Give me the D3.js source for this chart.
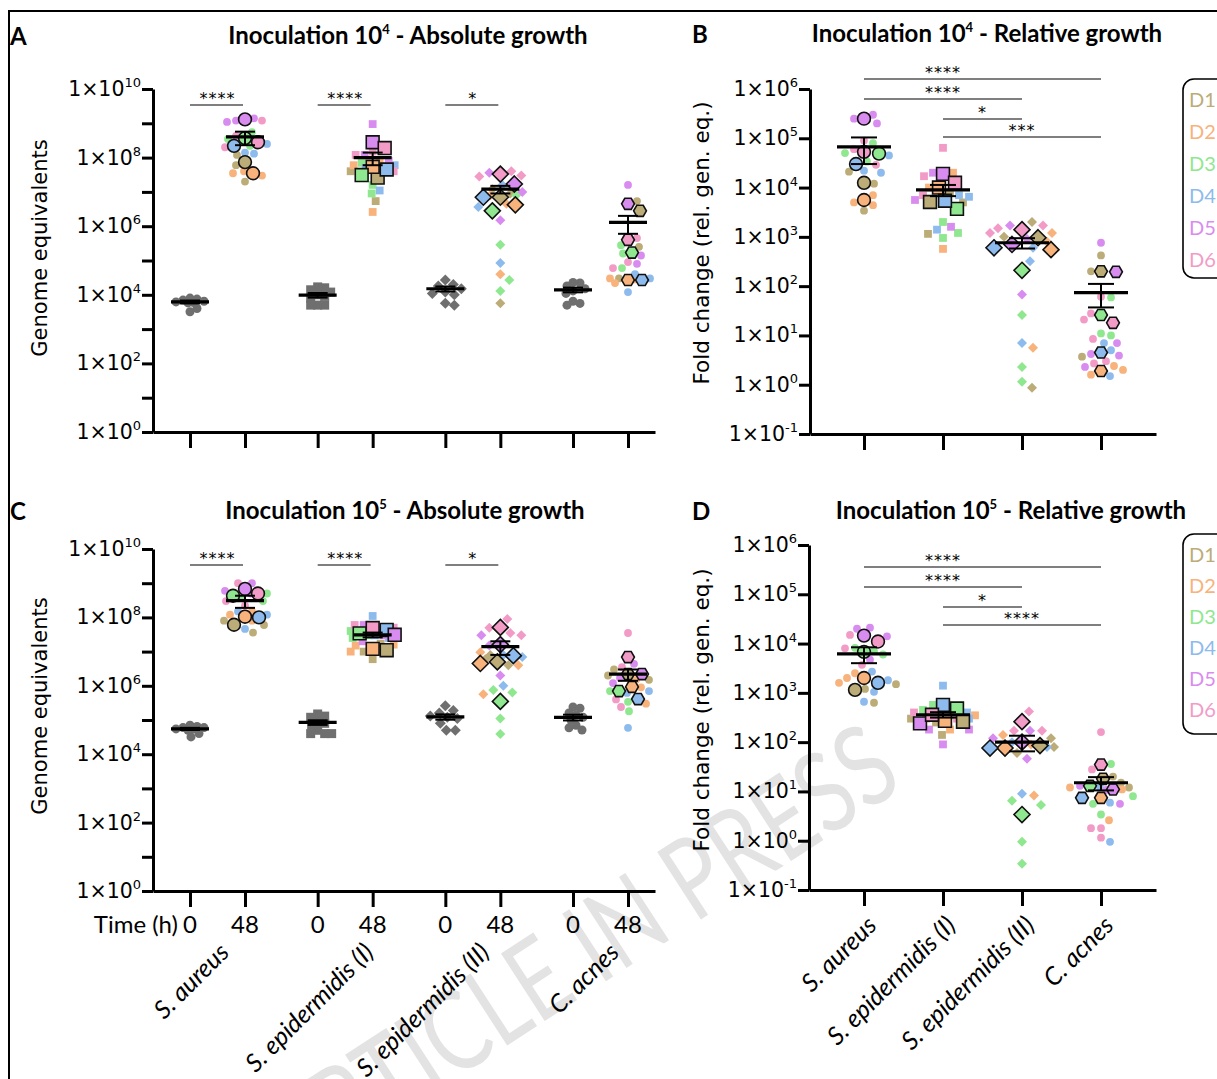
<!DOCTYPE html>
<html>
<head>
<meta charset="utf-8">
<script src="https://cdn.jsdelivr.net/npm/d3@7"></script>
<style>
  body { margin: 0; background: #fff; }
  svg { display: block; }
</style>
</head>
<body>
<div id="fig"></div>
<script>
// ---- data ----
const species = ["S. aureus", "S. epidermidis (I)", "S. epidermidis (II)", "C. acnes"];
const donors = ["D1", "D2", "D3", "D4", "D5", "D6"];
const donorColors = ["#bcac78", "#f8b27c", "#8fe88f", "#8dbbee", "#d98cf0", "#f39bc7"];
const timeLabels = ["0", "48"];
const absMajorTicks = [1, 1e2, 1e4, 1e6, 1e8, 1e10];
const absAllTicks = [1, 1e1, 1e2, 1e3, 1e4, 1e5, 1e6, 1e7, 1e8, 1e9, 1e10];
const relTicks = [1e-1, 1, 1e1, 1e2, 1e3, 1e4, 1e5, 1e6];

// A: inoculation 10^4, genome equivalents
const a_t0 = [
  [8e3, 7.5e3, 6.5e3, 6e3, 6.2e3, 5.8e3, 7e3, 3.2e3, 4e3],
  [1.6e4, 1.7e4, 1.2e4, 1.4e4, 1e4, 8e3, 9e3, 5e3, 5e3, 5e3],
  [2.7e4, 2e4, 1.8e4, 1.5e4, 1.2e4, 1.1e4, 1e4, 5.7e3, 5e3],
  [2.3e4, 2.2e4, 1.8e4, 1.5e4, 1.3e4, 1.1e4, 6.5e3, 5.6e3, 5e3]
];
const a_reps = [ // [species][donor] replicate values at 48 h
  [[1.2e8, 2e7, 6e7], [4e7, 3e7, 3.5e7], [5.5e8, 3.5e8, 2.2e8], [1.3e8, 1.4e8, 2.5e8], [1.1e9, 1.2e9, 1.4e9], [1.2e9, 4.3e8, 2e8]],
  [[5.5e7, 5.4e6, 4e7], [2.6e6, 8e7, 6e7], [1.6e7, 9e6, 7e7], [1.1e7, 6e7, 5e7], [9.5e8, 8e7, 1.2e8], [1.5e8, 1.2e8, 4e7]],
  [[5.7e3, 1.2e7, 9e6], [4e4, 8e6, 4.5e6], [8e6, 2.9e5, 2.7e4, 1.3e4], [3.6e6, 8.5e4, 1.6e7], [3.6e7, 1e7, 1.5e6], [2.8e7, 4e7, 3e7]],
  [[5.4e6, 2.5e5, 3e4], [3e4, 2.2e4, 2.8e4], [2.8e5, 6e4, 1.6e5], [1.2e4, 4e4, 3e4], [1.6e7, 1.4e5, 8e4], [4.5e5, 9e4, 6e4]]
];
const a_donorMeans = [
  [7.4e7, 3.5e7, 3.7e8, 2.2e8, 1.3e9, 2.8e8],
  [2.6e7, 5.4e7, 3.1e7, 4.5e7, 2.8e8, 1.9e8],
  [7e6, 4.2e6, 2.8e6, 7e6, 1.7e7, 3.3e7],
  [2.8e6, 2.7e4, 1.7e5, 2.7e4, 4.5e6, 4e5]
];
const a_t0Stats = [[6.2e3, 6e2], [9.8e3, 1.5e3], [1.5e4, 2.5e3], [1.4e4, 2.2e3]]; // mean, sem
const a_t48Stats = [[4e8, 1.7e8], [1e8, 4e7], [1.2e7, 3e6], [1.3e6, 7e5]];
const a_stars = ["****", "****", "*"];

// C: inoculation 10^5, genome equivalents
const c_t0 = [
  [7e4, 6.5e4, 6e4, 6e4, 5.5e4, 5.5e4, 5e4, 3.2e4, 4e4],
  [1.5e5, 1.3e5, 1.2e5, 9e4, 8e4, 7e4, 5e4, 4e4, 4e4, 4e4],
  [2.6e5, 1.9e5, 1.6e5, 1.3e5, 1.2e5, 1.1e5, 8e4, 5e4, 5e4],
  [2.4e5, 2.2e5, 1.6e5, 1.4e5, 1.2e5, 1e5, 7e4, 5.9e4, 5.1e4]
];
const c_reps = [
  [[3.6e7, 6e7, 8e7], [1.2e8, 1.5e8, 8e7], [4e8, 5e8, 3e8], [4.6e7, 1.5e8, 1.2e8], [1e9, 5e8, 6e8], [1e9, 3e8, 2.2e8]],
  [[1.7e7, 6e6, 1e7], [1.5e7, 1e7, 1.6e7], [3e7, 4e7, 2.5e7], [1.1e8, 3e7, 2.5e7], [6e7, 2e7, 3e7], [5e7, 6e7, 4e7]],
  [[6e6, 4e6, 8e6], [9.5e6, 5.7e5, 4e6], [6.4e5, 7.5e5, 1.1e5, 3.9e4], [7e6, 1e6, 8e6], [2e6, 3e7, 1.5e7], [9e7, 5e7, 3.5e7, 3e7]],
  [[2e6, 3e6, 1.5e6], [1.5e6, 3e5, 9e5], [3.4e5, 1.8e5, 7e5], [6.2e5, 7e5, 5.9e4], [4.4e6, 1.7e6, 1.2e6], [3.5e7, 3.5e6, 2.4e5, 4e5]]
];
const c_donorMeans = [
  [6.1e7, 1.05e8, 4.3e8, 1e8, 6.8e8, 5e8],
  [1.1e7, 1.2e7, 3.4e7, 4.3e7, 3.1e7, 4.9e7],
  [5e6, 4.5e6, 3.5e5, 7.6e6, 1.6e7, 5.1e7],
  [2.2e6, 9.3e5, 7e5, 4.1e5, 2.2e6, 6.9e6]
];
const c_t0Stats = [[5.5e4, 4e3], [8.5e4, 1.3e4], [1.24e5, 2.2e4], [1.2e5, 2.3e4]];
const c_t48Stats = [[3.1e8, 1.2e8], [3.1e7, 5e6], [1.4e7, 6e6], [2.2e6, 8e5]];
const c_stars = ["****", "****", "*"];

// B: inoculation 10^4, fold change
const b_reps = [
  [[2.1e4, 3.4e3, 1.2e4], [4.4e3, 7e3, 5e3], [3.4e4, 5e4, 8e4], [2e4, 2.2e4, 4.5e4], [2.5e5, 2e5, 3e5], [9e4, 2.9e4, 6e4]],
  [[1.15e3, 5e3, 8e3], [5.7e2, 2e4, 1e4], [2e3, 1.2e3, 9.5e2], [1.4e3, 7e3, 6.5e3], [5.6e3, 1.6e3, 2e4], [6.4e4, 1.7e4, 7e3]],
  [[2e3, 0.87, 1e3], [5.6, 1.2e3, 8e2], [2.3, 1.15, 26], [7, 3.2e2, 6e2], [68, 1.7e3, 9e2], [1.5e3, 1.7e3, 1.2e3]],
  [[4.2e2, 3.7, 2e2], [2.4, 1.6, 2], [59, 11, 10], [7, 5, 1.5], [7.6e2, 7, 4.2, 3.9, 2.3], [61, 28, 21, 8.5, 2.7, 3]]
];
const b_donorMeans = [
  [1.25e4, 5.6e3, 4.9e4, 3e4, 2.5e5, 5.3e4],
  [5.1e3, 1e4, 3.7e3, 5.4e3, 1.9e4, 1.25e4],
  [9.6e2, 5.5e2, 2.1e2, 6e2, 7e2, 1.4e3],
  [2e2, 1.9, 26, 4.5, 1.95e2, 18]
];
const b_stats = [[6.7e4, 3.7e4], [9e3, 2.3e3], [7.6e2, 1.8e2], [74, 37]];
const b_stars = ["****", "****", "*", "***"];

// D: inoculation 10^5, fold change
const d_reps = [
  [[6.3e2, 1.5e3, 1.2e3], [2e3, 2.5e3, 1.6e3], [8.2e3, 6e3, 7e3], [2.7e3, 1.8e3, 1.05e3, 6.6e2], [2.1e4, 2e4, 1.4e4, 4.7e3], [3.7e3, 1.5e4, 8e3]],
  [[1.4e2, 2.5e2, 3e2], [1.8e2, 3e2, 3.5e2], [5.7e2, 4.5e2, 3.5e2], [1.4e3, 3e2, 4e2], [1.8e2, 1.8e2, 90], [3.5e2, 4e2, 3e2]],
  [[1.2e2, 80, 60], [8.3, 1.4e2, 90], [6.5, 5.3, 0.95, 0.34], [9, 80, 1e2], [46, 1.7e2, 1.2e2], [4.2e2, 1.7e2, 1.7e2]],
  [[15, 20, 12], [2.6, 11, 12], [36, 5.6, 3.4, 8], [5.9, 0.95, 12], [10.7, 5.6, 13], [1.6e2, 28, 1.8, 1.8, 1.15]]
];
const d_donorMeans = [
  [1.15e3, 2e3, 6.8e3, 1.6e3, 1.45e4, 1.1e4],
  [2.6e2, 2.7e2, 4.8e2, 5.7e2, 2.4e2, 3.6e2],
  [85, 76, 3.4, 76, 1e2, 2.6e2],
  [18, 7.4, 13, 7.4, 11, 35]
];
const d_stats = [[6.2e3, 2.2e3], [3.6e2, 45], [1e2, 35], [15, 4.5]];
const d_stars = ["****", "****", "*", "****"];
const relComparisons = [[0, 3], [0, 2], [1, 2], [1, 3]];

// ---- drawing ----
const W = 1217, H = 1079;
const svg = d3.select("#fig").append("svg").attr("width", W).attr("height", H)
  .style("font-family", "'DejaVu Sans', sans-serif");
svg.append("rect").attr("width", W).attr("height", H).attr("fill", "#fff");

// watermark
svg.append("text")
  .attr("transform", "translate(600,985) rotate(-33) scale(0.78,1)")
  .attr("text-anchor", "middle")
  .attr("font-family", "Lato").attr("font-size", 112)
  .attr("fill", "#e3e3e3")
  .text("ARTICLE IN PRESS");

// figure frame
svg.append("path").attr("d", "M9,1079V11H1217").attr("fill", "none").attr("stroke", "#000").attr("stroke-width", 2);

const smallShape = ["circle", "square", "diamond", "circle"];
const bigShape = ["circle", "square", "diamond", "hexagon"];
const grey = "#6f6f6f";

function shapePath(kind, s) {
  if (kind === "circle") return d3.symbol(d3.symbolCircle, Math.PI * s * s)();
  if (kind === "square") return d3.symbol(d3.symbolSquare, 4 * s * s)();
  if (kind === "diamond") return `M0,${-s}L${s},0L0,${s}L${-s},0Z`;
  const pts = d3.range(6).map(i => [s * Math.cos(i * Math.PI / 3), s * Math.sin(i * Math.PI / 3)]);
  return "M" + pts.map(p => p.join(",")).join("L") + "Z";
}

// beeswarm kept inside +-half: big markers first, then small ones around them;
// when no free slot is left the least crowded one is taken
function swarm(items, cx, gap, half) {
  const placed = [];
  const order = items.slice().sort((a, b) => (b.big ? 1 : 0) - (a.big ? 1 : 0) || a.py - b.py);
  order.forEach(it => {
    let best = null, bestScore = -Infinity;
    for (let k = 0; k <= 2 * half; k++) {
      const off = k === 0 ? 0 : (k % 2 ? (k + 1) / 2 : -k / 2);
      const x = cx + off;
      let score = Infinity;
      placed.forEach(p => {
        const need = (p.r + it.r) * (p.big !== it.big ? 0.8 : 1) + gap;
        const d = Math.sqrt((p.px - x) ** 2 + (p.py - it.py) ** 2);
        score = Math.min(score, d - need);
      });
      if (score >= 0) { best = x; break; }
      if (score > bestScore) { bestScore = score; best = x; }
    }
    it.px = best; placed.push(it);
  });
  return items;
}

function styleAxis(sel) {
  sel.select(".domain").attr("stroke", "#000").attr("stroke-width", 3);
  sel.selectAll(".tick line").attr("stroke", "#000").attr("stroke-width", 3);
}

function expLabel(sel, n, big, small, lift) {
  sel.append("tspan").attr("font-size", big).text("1×10");
  sel.append("tspan").attr("font-size", small).attr("dy", -lift).text(n);
}

function drawGroup(g, y, grp) {
  const pts = grp.points.map(p => Object.assign({ py: y(p.v), r: p.size }, p));
  swarm(pts, grp.x, grp.gap, grp.half);
  pts.filter(p => !p.big).forEach(p => {
    g.append("path").attr("d", shapePath(p.shape, p.size))
      .attr("transform", `translate(${p.px},${p.py})`)
      .attr("fill", p.color);
  });
  pts.filter(p => p.big).forEach(p => {
    g.append("path").attr("d", shapePath(p.shape, p.size))
      .attr("transform", `translate(${p.px},${p.py})`)
      .attr("fill", p.color).attr("stroke", "#111").attr("stroke-width", 1.6);
  });
  const [m, s] = grp.stats;
  const lo = y(m - s), hi = y(m + s), ym = y(m);
  g.append("line").attr("x1", grp.x).attr("x2", grp.x).attr("y1", lo).attr("y2", hi)
    .attr("stroke", "#000").attr("stroke-width", 2);
  [lo, hi].forEach(v => g.append("line").attr("x1", grp.x - grp.capW).attr("x2", grp.x + grp.capW)
    .attr("y1", v).attr("y2", v).attr("stroke", "#000").attr("stroke-width", 2));
  g.append("line").attr("x1", grp.x - grp.meanW).attr("x2", grp.x + grp.meanW)
    .attr("y1", ym).attr("y2", ym).attr("stroke", "#000").attr("stroke-width", 3.2);
}

function drawTitle(x, yy, letter, lx, expo, rest) {
  svg.append("text").attr("x", lx).attr("y", yy + 1).attr("font-family", "Lato").attr("font-weight", 700)
    .attr("font-size", 24).text(letter);
  const t = svg.append("text").attr("x", x).attr("y", yy).attr("text-anchor", "middle")
    .attr("font-family", "Lato").attr("font-weight", 700).attr("font-size", 24);
  t.append("tspan").text("Inoculation 10");
  t.append("tspan").attr("font-size", 13).attr("dy", -10).text(expo);
  t.append("tspan").attr("dy", 10).text(" - " + rest);
}

function drawYAxis(g, f, y, all, labelled) {
  g.append("g").attr("transform", `translate(${f.x0},0)`)
    .call(d3.axisLeft(y).tickValues(all).tickFormat("").tickSize(11).tickSizeOuter(0))
    .call(styleAxis);
  labelled.forEach(v => {
    const t = g.append("text").attr("x", f.x0 - 12).attr("y", y(v) + 7).attr("text-anchor", "end");
    expLabel(t, Math.round(Math.log10(v)), 20.5, 13, 9);
  });
}

function drawXAxis(g, f, tickXs) {
  const xl = d3.scaleLinear().domain([f.x0, f.x1]).range([f.x0, f.x1]);
  g.append("g").attr("transform", `translate(0,${f.yBot})`)
    .call(d3.axisBottom(xl).tickValues(tickXs).tickFormat("").tickSize(16).tickSizeOuter(0))
    .call(styleAxis);
}

function yTitle(x, yc, text, size) {
  svg.append("text").attr("transform", `translate(${x},${yc}) rotate(-90)`)
    .attr("text-anchor", "middle").attr("font-size", size).text(text);
}

function donorPoints(i, reps, dMeans) {
  const pts = [];
  reps[i].forEach((arr, d) => arr.forEach(v => pts.push({ v, color: donorColors[d], shape: smallShape[i], size: smallShape[i] === "diamond" ? 5 : 3.9 })));
  dMeans[i].forEach((v, d) => pts.push({ v, big: true, color: donorColors[d], shape: bigShape[i], size: bigShape[i] === "diamond" ? 8 : 6.4 }));
  return pts;
}

function absolutePanel(f, t0, reps, dMeans, t0Stats, t48Stats, stars) {
  const g = svg.append("g");
  const y = d3.scaleLog().domain([1, 1e10]).range([f.yBot, f.yTop]);
  const xs = d3.scalePoint().domain(species).range(f.cx);
  const tx = (i, t) => xs(species[i]) + (t ? 27.5 : -27.5);
  drawYAxis(g, f, y, absAllTicks, absMajorTicks);
  drawXAxis(g, f, d3.merge(species.map((s, i) => [tx(i, 0), tx(i, 1)])));
  species.forEach((sp, i) => {
    drawGroup(g, y, {
      x: tx(i, 0), gap: -2, half: 18, capW: 10, meanW: 19, stats: t0Stats[i],
      points: t0[i].map(v => ({ v, color: grey, shape: smallShape[i], size: smallShape[i] === "diamond" ? 5.5 : 4.5 }))
    });
    drawGroup(g, y, { x: tx(i, 1), gap: 0.5, half: 22, capW: 10, meanW: 19, stats: t48Stats[i], points: donorPoints(i, reps, dMeans) });
  });
  // significance between 0 h and 48 h
  stars.forEach((s, i) => {
    const ly = f.yTop + 16;
    g.append("line").attr("x1", tx(i, 0)).attr("x2", tx(i, 1) - 2).attr("y1", ly).attr("y2", ly)
      .attr("stroke", "#555").attr("stroke-width", 1.5);
    g.append("text").attr("x", (tx(i, 0) + tx(i, 1)) / 2).attr("y", ly - 1).attr("text-anchor", "middle")
      .attr("font-size", 16).attr("letter-spacing", 1).text(s);
  });
  return { g, tx };
}

function relativePanel(f, reps, dMeans, stats, stars, levels) {
  const g = svg.append("g");
  const y = d3.scaleLog().domain([0.1, 1e6]).range([f.yBot, f.yTop]);
  const xs = d3.scalePoint().domain(species).range(f.cx);
  const xi = d3.scaleLinear().domain([0, species.length - 1]).range(f.cx);
  drawYAxis(g, f, y, relTicks, relTicks);
  drawXAxis(g, f, species.map(s => xs(s)));
  species.forEach((sp, i) => {
    drawGroup(g, y, { x: xs(sp), gap: 1.5, half: 32, capW: 13, meanW: 27, stats: stats[i], points: donorPoints(i, reps, dMeans) });
  });
  const labelAt = [1, 1, 1.5, 2];
  relComparisons.forEach(([a, b], k) => {
    const ly = f.yTop + levels[k];
    g.append("line").attr("x1", xi(a)).attr("x2", xi(b)).attr("y1", ly).attr("y2", ly)
      .attr("stroke", "#555").attr("stroke-width", 1.5);
    g.append("text").attr("x", xi(labelAt[k])).attr("y", ly - 1).attr("text-anchor", "middle")
      .attr("font-size", 16).attr("letter-spacing", 1).text(stars[k]);
  });
  return { g, xs };
}

function legend(x, y0, h, step) {
  svg.append("rect").attr("x", x).attr("y", y0).attr("width", 70).attr("height", h).attr("rx", 11)
    .attr("fill", "none").attr("stroke", "#000").attr("stroke-width", 1.6);
  donors.forEach((d, i) => svg.append("text").attr("x", x + 6).attr("y", y0 + 28 + i * step)
    .attr("font-family", "Lato").attr("font-size", 20).attr("fill", donorColors[i]).text(d));
}

// panel A
const fA = { x0: 153, x1: 655, yTop: 89, yBot: 432, cx: [217.5, 600.5] };
absolutePanel(fA, a_t0, a_reps, a_donorMeans, a_t0Stats, a_t48Stats, a_stars);
drawTitle(408, 44, "A", 10, "4", "Absolute growth");
yTitle(47, 248, "Genome equivalents", 21);

// panel B
const fB = { x0: 810, x1: 1156, yTop: 89, yBot: 434, cx: [864, 1101] };
relativePanel(fB, b_reps, b_donorMeans, b_stats, b_stars, [-10, 10, 30, 48]);
drawTitle(987, 42, "B", 692, "4", "Relative growth");
yTitle(709, 243, "Fold change  (rel. gen. eq.)", 21.5);
legend(1183, 79, 199, 32);

// panel C
const fC = { x0: 153, x1: 655, yTop: 549, yBot: 891, cx: [217.5, 600.5] };
const pc = absolutePanel(fC, c_t0, c_reps, c_donorMeans, c_t0Stats, c_t48Stats, c_stars);
drawTitle(405, 519, "C", 10, "5", "Absolute growth");
yTitle(47, 706, "Genome equivalents", 21);
svg.append("text").attr("x", 178).attr("y", 933).attr("text-anchor", "end")
  .attr("font-family", "Lato").attr("font-size", 24).text("Time (h)");
const labelShift = [5, 22, 10, 12];
species.forEach((sp, i) => {
  timeLabels.forEach((t, k) => svg.append("text").attr("x", pc.tx(i, k)).attr("y", 933)
    .attr("text-anchor", "middle").attr("font-family", "Lato").attr("font-size", 24).text(t));
  svg.append("text")
    .attr("transform", `translate(${(pc.tx(i, 0) + pc.tx(i, 1)) / 2 + labelShift[i] + 8},${954}) rotate(-45)`)
    .attr("text-anchor", "end").attr("font-family", "Lato").attr("font-style", "italic")
    .attr("font-size", 25).text(sp);
});

// panel D
const fD = { x0: 809, x1: 1156, yTop: 545, yBot: 890, cx: [864, 1101] };
const pd = relativePanel(fD, d_reps, d_donorMeans, d_stats, d_stars, [22, 42, 62, 80]);
drawTitle(1011, 519, "D", 692, "5", "Relative growth");
yTitle(709, 710, "Fold change  (rel. gen. eq.)", 21.5);
legend(1183, 534, 200, 31);
species.forEach(sp => {
  svg.append("text")
    .attr("transform", `translate(${pd.xs(sp) + 14},${927}) rotate(-45)`)
    .attr("text-anchor", "end").attr("font-family", "Lato").attr("font-style", "italic")
    .attr("font-size", 25).text(sp);
});
</script>
</body>
</html>
